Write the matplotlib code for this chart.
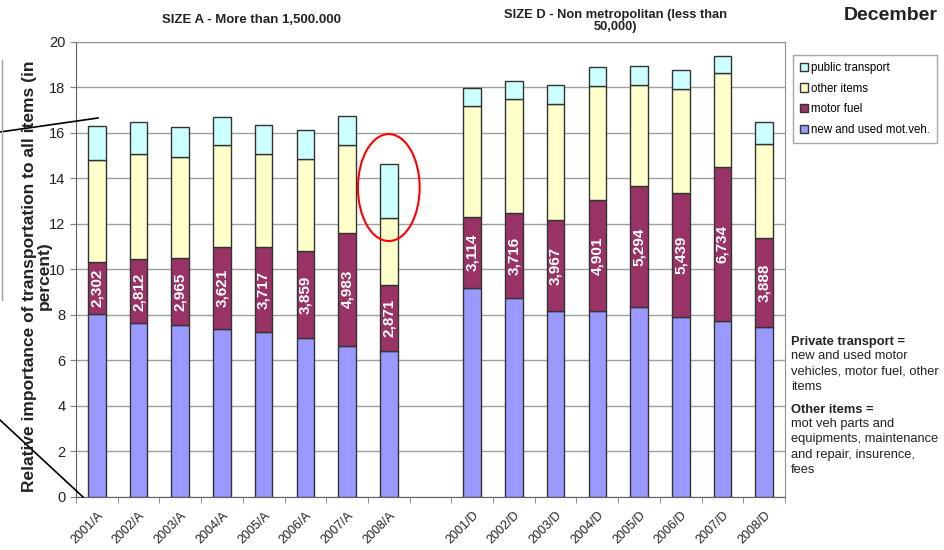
import numpy as np
import matplotlib.pyplot as plt
from matplotlib.patches import Ellipse, Patch
from matplotlib.lines import Line2D

plt.rcParams['font.family'] = ['Liberation Sans', 'DejaVu Sans']

# categories (empty slot separates the two groups)
categories = ['2001/A', '2002/A', '2003/A', '2004/A', '2005/A', '2006/A', '2007/A', '2008/A',
              '',
              '2001/D', '2002/D', '2003/D', '2004/D', '2005/D', '2006/D', '2007/D', '2008/D']

# series values (percent), None for the gap slot
veh = [8.04, 7.63, 7.55, 7.38, 7.25, 6.97, 6.64, 6.43, None,
       9.19, 8.75, 8.19, 8.16, 8.37, 7.93, 7.75, 7.49]
fuel = [2.302, 2.812, 2.965, 3.621, 3.717, 3.859, 4.983, 2.871, None,
        3.114, 3.716, 3.967, 4.901, 5.294, 5.439, 6.734, 3.888]
other = [4.49, 4.63, 4.41, 4.45, 4.11, 4.04, 3.84, 2.97, None,
         4.88, 5.02, 5.11, 5.01, 4.44, 4.56, 4.15, 4.15]
public = [1.46, 1.39, 1.32, 1.26, 1.29, 1.25, 1.30, 2.38, None,
          0.81, 0.81, 0.85, 0.83, 0.85, 0.85, 0.74, 0.95]
fuel_labels = ['2,302', '2,812', '2,965', '3,621', '3,717', '3,859', '4,983', '2,871', '',
               '3,114', '3,716', '3,967', '4,901', '5,294', '5,439', '6,734', '3,888']

series = [('new and used mot.veh.', veh, '#9999FF'),
          ('motor fuel', fuel, '#993366'),
          ('other items', other, '#FFFFCC'),
          ('public transport', public, '#CCFFFF')]

fig = plt.figure(figsize=(9.45, 5.5), dpi=100)
ax = fig.add_axes([0.0804, 0.0964, 0.7503, 0.8273])

x = np.arange(len(categories))
mask = np.array([v is not None for v in veh])
xs = x[mask]
bottom = np.zeros(mask.sum())
for name, vals, col in series:
    v = np.array([a for a in vals if a is not None])
    ax.bar(xs, v, 0.42, bottom=bottom, color=col, edgecolor='#333333',
           linewidth=1, zorder=3)
    if name == 'motor fuel':
        labs = [l for l, m in zip(fuel_labels, mask) if m]
        for xi, b, h, l in zip(xs, bottom, v, labs):
            ax.text(xi, b + h / 2, l, rotation=90, ha='center', va='center',
                    color='white', fontsize=11, fontweight='bold', zorder=4)
    bottom = bottom + v

ax.set_xlim(-0.5, len(categories) - 0.5)
ax.set_ylim(0, 20)
ax.set_yticks(np.arange(0, 21, 2))
ax.yaxis.grid(True, color='#a0a0a0', linewidth=1)
ax.set_axisbelow(True)
ax.set_xticks(x)
ax.set_xticklabels(categories, rotation=45, ha='right', rotation_mode='anchor',
                   fontsize=9, color='#222222')
ax.set_xticks(np.arange(-0.5, len(categories), 1), minor=True)
ax.tick_params(axis='x', which='major', length=0, pad=9)
ax.tick_params(axis='x', which='minor', length=4, color='#808080')
ax.tick_params(axis='y', length=4, color='#808080', labelsize=10.5, labelcolor='#222222')
for s in ['top', 'right']:
    ax.spines[s].set_color('#909090')
for s in ['left', 'bottom']:
    ax.spines[s].set_color('#606060')

# red ellipse around 2008/A
ax.add_patch(Ellipse((7, 13.6), 1.48, 4.7, fill=False, edgecolor='red',
                     linewidth=1.5, zorder=5, clip_on=False))

# titles
fig.text(251 / 945, 1 - 20 / 550, 'SIZE A - More than 1,500.000', ha='center', va='center',
         fontsize=9.5, fontweight='bold', color='#222222')
fig.text(615 / 945, 1 - 21 / 550, 'SIZE D - Non metropolitan (less than\n50,000)',
         ha='center', va='center', fontsize=9.3, fontweight='bold', color='#222222',
         linespacing=1.1)
fig.text(891 / 945, 1 - 16 / 550, 'December', ha='center', va='center',
         fontsize=14, fontweight='bold', color='#222222')

fig.text(37 / 945, 1 - 276 / 550, 'Relative importance of transportation to all items (in\npercent)',
         rotation=90, ha='center', va='center', multialignment='center',
         fontsize=12.5, fontweight='bold', color='#222222', linespacing=1.05)

# legend
handles = [Patch(facecolor=c, edgecolor='#333333', label=n) for n, _, c in series[::-1]]
leg = fig.legend(handles=handles, loc='upper left', bbox_to_anchor=(793 / 945, 1 - 55 / 550),
                 fontsize=8.3, frameon=True, fancybox=False, edgecolor='#909090',
                 handlelength=0.7, handleheight=0.7, handletextpad=0.3,
                 labelspacing=0.75, borderpad=0.6, borderaxespad=0)

# notes
fig.text(791 / 945, 1 - 342 / 550, 'Private transport =', fontsize=9.3, fontweight='bold',
         va='center', color='#222222')
fig.text(791 / 945, 1 - 350 / 550, 'new and used motor\nvehicles, motor fuel, other\nitems',
         fontsize=9.3, va='top', linespacing=1.38, color='#222222')
fig.text(791 / 945, 1 - 410 / 550, 'Other items =', fontsize=9.3, fontweight='bold',
         va='center', color='#222222')
fig.text(791 / 945, 1 - 418 / 550,
         'mot veh parts and\nequipments, maintenance\nand repair, insurence,\nfees',
         fontsize=9.3, va='top', linespacing=1.38, color='#222222')

# callout lines on the left
fig.add_artist(Line2D([0, 98 / 945], [1 - 132 / 550, 1 - 118 / 550], color='black', linewidth=1.2))
fig.add_artist(Line2D([0, 83 / 945], [1 - 420 / 550, 1 - 497 / 550], color='black', linewidth=1.2))
fig.add_artist(Line2D([2 / 945, 2 / 945], [1 - 60 / 550, 1 - 300 / 550], color='#a0a0a0', linewidth=1))

fig.savefig('out.png', dpi=100)
